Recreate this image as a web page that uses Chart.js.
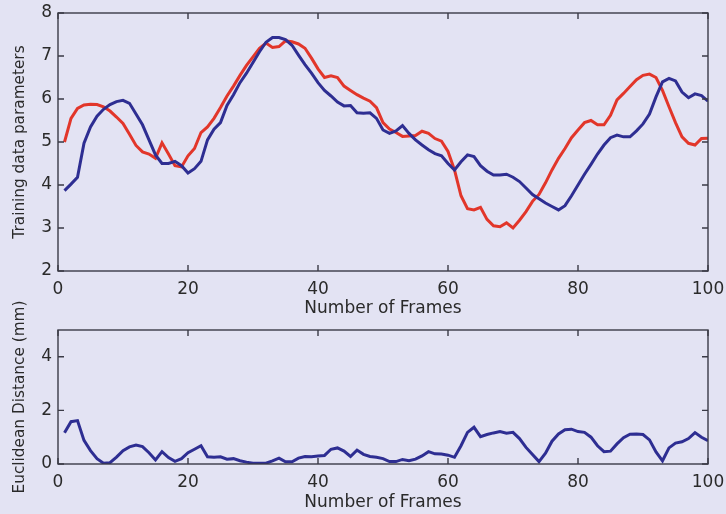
<!doctype html>
<html>

<head>
    <title>Training data parameters</title>
    <script src="https://cdn.jsdelivr.net/npm/chart.js"></script>
    <style>
        body { margin: 0; background: #e3e3f3; }
        #wrap { position: relative; width: 726px; height: 514px; overflow: hidden; }
        canvas { position: absolute; left: 0; }
    </style>
</head>

<body>
    <div id="wrap">
        <canvas id="parametros" width="726" height="320" style="top: 0px;"></canvas>
        <canvas id="distancia" width="726" height="214" style="top: 300px;"></canvas>
    </div>

    <script>
    const frames = [1, 2, 3, 4, 5, 6, 7, 8, 9, 10, 11, 12, 13, 14, 15, 16, 17, 18, 19, 20,
        21, 22, 23, 24, 25, 26, 27, 28, 29, 30, 31, 32, 33, 34, 35, 36, 37, 38, 39, 40,
        41, 42, 43, 44, 45, 46, 47, 48, 49, 50, 51, 52, 53, 54, 55, 56, 57, 58, 59, 60,
        61, 62, 63, 64, 65, 66, 67, 68, 69, 70, 71, 72, 73, 74, 75, 76, 77, 78, 79, 80,
        81, 82, 83, 84, 85, 86, 87, 88, 89, 90, 91, 92, 93, 94, 95, 96, 97, 98, 99, 100];

    // parametro azul (curva escura)
    const blueParams = [3.87, 4.02, 4.18, 4.97, 5.35, 5.6, 5.76, 5.87, 5.94, 5.97,
        5.9, 5.65, 5.4, 5.05, 4.7, 4.5, 4.5, 4.55, 4.45, 4.28,
        4.38, 4.55, 5.05, 5.3, 5.45, 5.85, 6.1, 6.38, 6.6, 6.85,
        7.1, 7.32, 7.43, 7.43, 7.38, 7.25, 7.02, 6.8, 6.6, 6.38,
        6.2, 6.07, 5.93, 5.84, 5.85, 5.68, 5.67, 5.68, 5.55, 5.28,
        5.2, 5.26, 5.38, 5.2, 5.05, 4.93, 4.82, 4.73, 4.68, 4.5,
        4.35, 4.54, 4.7, 4.66, 4.45, 4.32, 4.23, 4.23, 4.25, 4.18,
        4.08, 3.93, 3.78, 3.68, 3.58, 3.5, 3.42, 3.52, 3.75, 4.0,
        4.25, 4.48, 4.72, 4.93, 5.1, 5.16, 5.12, 5.12, 5.26, 5.42,
        5.65, 6.05, 6.4, 6.48, 6.42, 6.16, 6.03, 6.12, 6.08, 5.95];

    // parametro vermelho
    const redParams = [5.0, 5.55, 5.78, 5.86, 5.88, 5.87, 5.82, 5.72, 5.58, 5.43,
        5.18, 4.92, 4.77, 4.72, 4.62, 4.98, 4.72, 4.45, 4.42, 4.68,
        4.85, 5.22, 5.35, 5.55, 5.8, 6.07, 6.3, 6.55, 6.78, 6.98,
        7.18, 7.3, 7.2, 7.22, 7.35, 7.33, 7.28, 7.18, 6.95, 6.7,
        6.5, 6.54, 6.5, 6.3, 6.2, 6.1, 6.02, 5.95, 5.8, 5.45,
        5.3, 5.22, 5.13, 5.14, 5.15, 5.25, 5.2, 5.08, 5.02, 4.78,
        4.35, 3.75, 3.45, 3.42, 3.48, 3.2, 3.05, 3.03, 3.12, 3.0,
        3.18, 3.38, 3.62, 3.78, 4.05, 4.35, 4.62, 4.85, 5.1, 5.28,
        5.45, 5.5, 5.4, 5.4, 5.62, 5.98, 6.13, 6.29, 6.45, 6.55,
        6.58, 6.5, 6.2, 5.82, 5.45, 5.12, 4.97, 4.93, 5.08, 5.09];

    // distancia euclidiana (mm)
    const distance = [1.17, 1.58, 1.62, 0.88, 0.5, 0.2, 0.03, 0.05, 0.26, 0.5,
        0.64, 0.71, 0.65, 0.42, 0.15, 0.46, 0.24, 0.1, 0.2, 0.42,
        0.55, 0.68, 0.27, 0.25, 0.27, 0.18, 0.2, 0.12, 0.07, 0.03,
        0.03, 0.03, 0.12, 0.22, 0.08, 0.08, 0.22, 0.28, 0.27, 0.3,
        0.32, 0.55, 0.6, 0.48, 0.28, 0.52, 0.36, 0.28, 0.25, 0.2,
        0.09, 0.09, 0.17, 0.12, 0.18, 0.3, 0.46, 0.38, 0.37, 0.33,
        0.25, 0.68, 1.18, 1.37, 1.02, 1.1, 1.16, 1.21, 1.15, 1.18,
        0.95, 0.62, 0.35, 0.09, 0.4, 0.85, 1.12, 1.28, 1.3, 1.21,
        1.18, 1.0, 0.68, 0.46, 0.48, 0.75, 0.98, 1.11, 1.12, 1.1,
        0.9, 0.45, 0.12, 0.6, 0.78, 0.83, 0.95, 1.17, 1.0, 0.87];

    const xTicks = [0, 20, 40, 60, 80, 100];

    const AZUL = '#2e2e92';
    const VERMELHO = '#e2362a';
    const EIXO = '#3a3a46';
    const TEXTO = '#2a2a2a';

    Chart.defaults.font.family = '"DejaVu Sans", sans-serif';
    Chart.defaults.color = TEXTO;

    function pontos(valores) {
        return frames.map((f, i) => ({ x: f, y: valores[i] }));
    }

    // caixa e ticks para dentro, estilo matlab
    const caixaMatlab = {
        id: 'caixaMatlab',
        afterDraw(chart) {
            const ctx = chart.ctx;
            const a = chart.chartArea;
            const x = chart.scales.x;
            const y = chart.scales.y;
            const tl = 6;
            ctx.save();
            ctx.strokeStyle = EIXO;
            ctx.lineWidth = 1.4;
            ctx.strokeRect(a.left, a.top, a.right - a.left, a.bottom - a.top);
            ctx.beginPath();
            x.ticks.forEach(t => {
                const px = x.getPixelForValue(t.value);
                ctx.moveTo(px, a.bottom); ctx.lineTo(px, a.bottom - tl);
                ctx.moveTo(px, a.top); ctx.lineTo(px, a.top + tl);
            });
            y.ticks.forEach(t => {
                const py = y.getPixelForValue(t.value);
                ctx.moveTo(a.left, py); ctx.lineTo(a.left + tl, py);
                ctx.moveTo(a.right, py); ctx.lineTo(a.right - tl, py);
            });
            ctx.stroke();
            ctx.restore();
        }
    };

    // tira as margens automaticas dos rotulos, a area do grafico fica fixa
    function semMargem(s) {
        s.paddingLeft = 0;
        s.paddingRight = 0;
        s.paddingTop = 0;
        s.paddingBottom = 0;
    }

    function eixoX(alturaEixo, padTicks, padTitulo) {
        return {
            type: 'linear',
            min: 0,
            max: 100,
            afterBuildTicks: s => { s.ticks = xTicks.map(v => ({ value: v })); },
            afterFit: s => { s.height = alturaEixo; semMargem(s); },
            grid: { display: false, drawTicks: false },
            border: { display: false },
            ticks: { padding: padTicks, maxRotation: 0, font: { size: 17 } },
            title: {
                display: true,
                text: 'Number of Frames',
                font: { size: 17 },
                padding: { top: 0, bottom: padTitulo }
            }
        };
    }

    function eixoY(min, max, passo, titulo) {
        return {
            min: min,
            max: max,
            afterFit: s => { s.width = 58; semMargem(s); },
            grid: { display: false, drawTicks: false },
            border: { display: false },
            ticks: { stepSize: passo, includeBounds: false, padding: 6, font: { size: 17 } },
            title: {
                display: true,
                text: titulo,
                font: { size: 15.3 },
                padding: { top: 11, bottom: 0 }
            }
        };
    }

    var parametros = new Chart(document.getElementById('parametros').getContext('2d'), {
        type: 'line',
        data: {
            datasets: [
                {
                    label: 'Azul',
                    borderColor: AZUL,
                    borderWidth: 3,
                    pointRadius: 0,
                    data: pontos(blueParams)
                },
                {
                    label: 'Vermelho',
                    borderColor: VERMELHO,
                    borderWidth: 3,
                    pointRadius: 0,
                    data: pontos(redParams)
                }
            ]
        },
        options: {
            responsive: false,
            animation: false,
            layout: { padding: { top: 13, right: 18, left: 0, bottom: 0 } },
            plugins: { legend: { display: false }, tooltip: { enabled: false } },
            scales: {
                x: eixoX(49, 8, 1),
                y: eixoY(2, 8, 1, 'Training data parameters')
            }
        },
        plugins: [caixaMatlab]
    });

    var distancia = new Chart(document.getElementById('distancia').getContext('2d'), {
        type: 'line',
        data: {
            datasets: [
                {
                    label: 'Distancia',
                    borderColor: AZUL,
                    borderWidth: 3,
                    pointRadius: 0,
                    data: pontos(distance)
                }
            ]
        },
        options: {
            responsive: false,
            animation: false,
            layout: { padding: { top: 30, right: 18, left: 0, bottom: 0 } },
            plugins: { legend: { display: false }, tooltip: { enabled: false } },
            scales: {
                x: eixoX(50, 8, 1),
                y: eixoY(0, 5, 2, 'Euclidean Distance (mm)')
            }
        },
        plugins: [caixaMatlab]
    });
    </script>
</body>

</html>
